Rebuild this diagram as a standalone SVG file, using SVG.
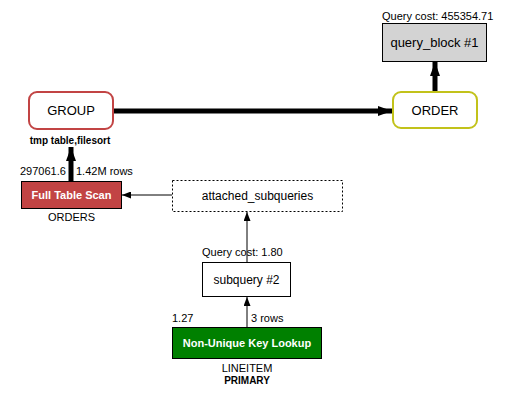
<svg xmlns="http://www.w3.org/2000/svg" width="527" height="410" viewBox="0 0 527 410">
<defs>
<style>
text{font-family:"Liberation Sans",Arial,sans-serif;fill:#000}
.lbl{font-size:11px}
.mid{font-size:12px}
.node{font-size:13px}
.b{font-weight:bold;font-size:10px}
.w{fill:#fff;font-weight:bold;font-size:11px}
.thick{stroke:#000;stroke-width:5;fill:none}
.thin{stroke:#000;stroke-width:1;fill:none}
</style>
<marker id="big" viewBox="0 0 14 10" refX="14" refY="5" markerWidth="14" markerHeight="10" markerUnits="userSpaceOnUse" orient="auto">
<path d="M0,0 L14,5 L0,10 Z" fill="#000"/>
</marker>
<marker id="small" viewBox="0 0 9 7" refX="9" refY="3.5" markerWidth="9" markerHeight="7" markerUnits="userSpaceOnUse" orient="auto">
<path d="M0,0 L9,3.5 L0,7 Z" fill="#000"/>
</marker>
</defs>
<rect width="527" height="410" fill="#fff"/>
<g id="connectors">
<line class="thick" x1="113" y1="111" x2="392" y2="111" marker-end="url(#big)"/>
<line class="thick" x1="435" y1="91" x2="435" y2="62" marker-end="url(#big)"/>
<line class="thick" x1="71" y1="181" x2="71" y2="147" marker-end="url(#big)"/>
<line class="thin" x1="172" y1="195" x2="122" y2="195" marker-end="url(#small)"/>
<line class="thin" x1="247" y1="262" x2="247" y2="212" marker-end="url(#small)"/>
<line class="thin" x1="247" y1="327" x2="247" y2="297" marker-end="url(#small)"/>
</g>
<g id="query_block_1">
<text class="lbl" x="382" y="20">Query cost: 455354.71</text>
<rect x="382.5" y="23.5" width="104" height="38" fill="#d3d3d3" stroke="#000"/>
<text class="node" x="434.5" y="47" text-anchor="middle">query_block #1</text>
</g>
<g id="order">
<rect x="393" y="92" width="84" height="36" rx="8" fill="#fff" stroke="#c2c21a" stroke-width="2"/>
<text class="node" x="435" y="115" text-anchor="middle">ORDER</text>
</g>
<g id="group">
<rect x="29" y="92" width="84" height="37" rx="8" fill="#fff" stroke="#c24444" stroke-width="2"/>
<text class="node" x="71" y="115" text-anchor="middle">GROUP</text>
<text class="b" x="70" y="144" text-anchor="middle">tmp table,filesort</text>
</g>
<g id="full_table_scan">
<text class="lbl" x="20" y="175">297061.6</text>
<text class="lbl" x="76" y="175">1.42M rows</text>
<rect x="21.5" y="181.5" width="100" height="27" fill="#c24444" stroke="#000"/>
<text class="w" x="71.5" y="199" text-anchor="middle">Full Table Scan</text>
<text class="lbl" x="71.5" y="221" text-anchor="middle">ORDERS</text>
</g>
<g id="attached_subqueries">
<rect x="172.5" y="180.5" width="170" height="31" fill="#fff" stroke="#000" stroke-dasharray="2,2"/>
<text class="mid" x="257.5" y="200" text-anchor="middle">attached_subqueries</text>
</g>
<g id="subquery_2">
<text class="lbl" x="202" y="256">Query cost: 1.80</text>
<rect x="202.5" y="262.5" width="88" height="34" fill="#fff" stroke="#000"/>
<text class="mid" x="246.5" y="284" text-anchor="middle">subquery #2</text>
</g>
<g id="non_unique_key_lookup">
<text class="lbl" x="172" y="322">1.27</text>
<text class="lbl" x="251" y="322">3 rows</text>
<rect x="172.5" y="327.5" width="149" height="31" fill="#008000" stroke="#000"/>
<text class="w" x="247" y="347" text-anchor="middle">Non-Unique Key Lookup</text>
<text class="lbl" x="247" y="372" text-anchor="middle">LINEITEM</text>
<text class="b" x="247" y="384" text-anchor="middle">PRIMARY</text>
</g>
</svg>
